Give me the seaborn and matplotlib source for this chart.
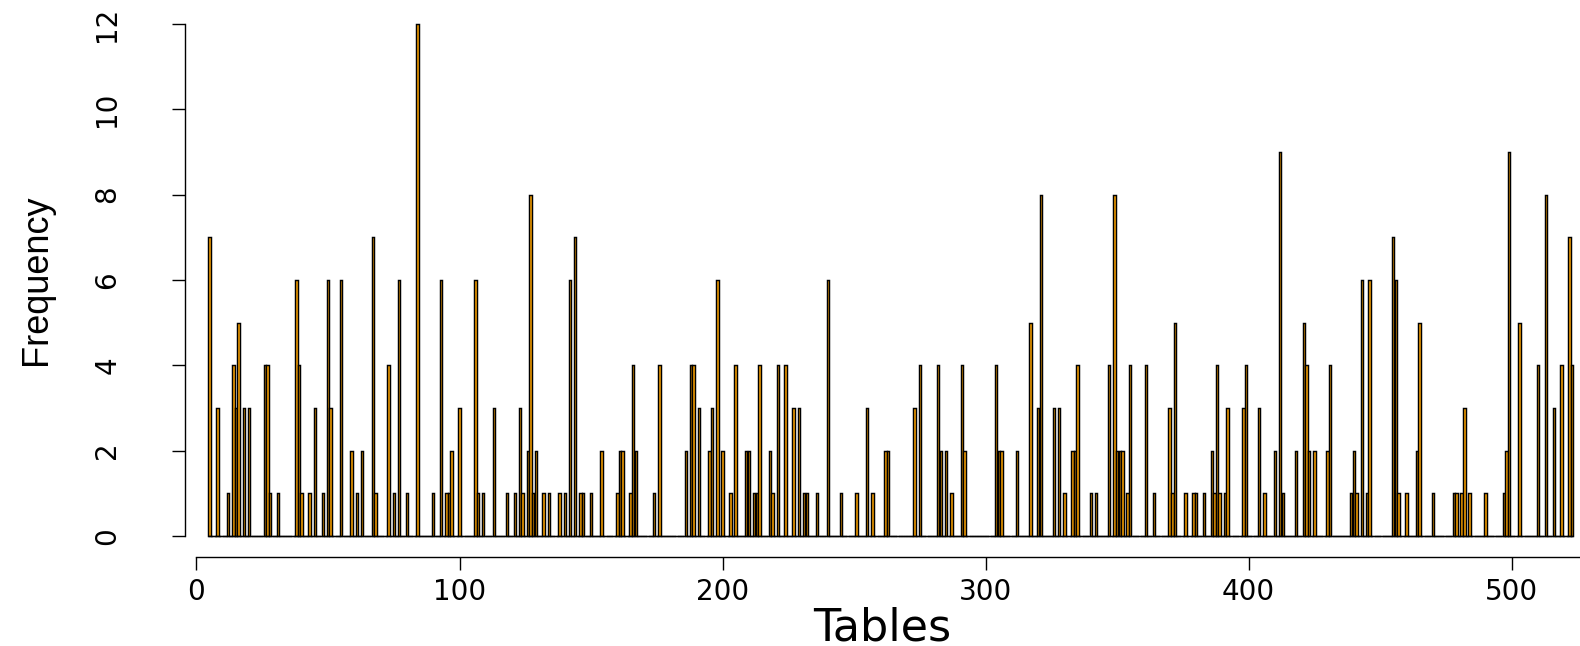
"""plot.py - frequency of table ids, drawn as thin R-style bars"""

import matplotlib

matplotlib.use("Agg")

import matplotlib.pyplot as plt
import pandas as pd
import seaborn as sns

# table ids that occur, and how often each one occurs
TABLE_IDS = [
    5, 8, 12, 14, 15, 16, 18, 20, 26, 27, 28, 31, 38, 39, 40,
    43, 45, 48, 50, 51, 55, 59, 61, 63, 67, 68, 73, 75, 77, 80, 84,
    90, 93, 95, 96, 97, 100, 106, 107, 109, 113, 118, 121, 123, 124, 126, 127, 128, 129,
    132, 134, 138, 140, 142, 144, 146, 147, 150, 154, 160, 161, 162, 165, 166, 167, 174,
    176, 186, 188, 189, 191, 195, 196, 198, 200, 203, 205, 209, 210, 212, 213, 214, 218,
    219, 221, 224, 227, 229, 231, 232, 236, 240, 245, 251, 255, 257,
    262, 263, 273, 275, 282, 283, 285, 287, 291, 292, 304, 305,
    306, 312, 317, 320, 321, 326, 328, 330, 333, 334, 335, 340, 342, 347, 349,
    350, 351, 352, 354, 355, 361, 364, 370, 371, 372, 376, 379, 380, 383, 386, 387, 388, 389, 391, 392,
    398, 399, 404, 406, 410, 412, 413, 418, 421, 422, 423, 425, 430, 431,
    439, 440, 441, 443, 445, 446, 455, 456, 457, 460, 464, 465, 470, 478, 479,
    481, 482, 484, 490, 497, 498, 499, 503, 510, 513, 516, 519, 522, 523,
]
COUNTS = [
    7, 3, 1, 4, 3, 5, 3, 3, 4, 4, 1, 1, 6, 4, 1,
    1, 3, 1, 6, 3, 6, 2, 1, 2, 7, 1, 4, 1, 6, 1, 12,
    1, 6, 1, 1, 2, 3, 6, 1, 1, 3, 1, 1, 3, 1, 2, 8, 1, 2,
    1, 1, 1, 1, 6, 7, 1, 1, 1, 2, 1, 2, 2, 1, 4, 2, 1,
    4, 2, 4, 4, 3, 2, 3, 6, 2, 1, 4, 2, 2, 1, 1, 4, 2,
    1, 4, 4, 3, 3, 1, 1, 1, 6, 1, 1, 3, 1,
    2, 2, 3, 4, 4, 2, 2, 1, 4, 2, 4, 2,
    2, 2, 5, 3, 8, 3, 3, 1, 2, 2, 4, 1, 1, 4, 8,
    2, 2, 2, 1, 4, 4, 1, 3, 1, 5, 1, 1, 1, 1, 2, 1, 4, 1, 1, 3,
    3, 4, 3, 1, 2, 9, 1, 2, 5, 4, 2, 2, 2, 4,
    1, 2, 1, 6, 1, 6, 7, 6, 1, 1, 2, 5, 1, 1, 1,
    1, 3, 1, 1, 1, 2, 9, 5, 4, 8, 3, 4, 7, 4,
]
X_TICKS = [0, 100, 200, 300, 400, 500]
Y_TICKS = [0, 2, 4, 6, 8, 10, 12]


def build_table() -> pd.DataFrame:
    """Full run of table ids from first to last, zero where a table never occurs."""
    freq = dict(zip(TABLE_IDS, COUNTS))
    ids = list(range(TABLE_IDS[0], TABLE_IDS[-1] + 1))
    return pd.DataFrame({"table": ids, "freq": [freq.get(i, 0) for i in ids]})


def plot_frequency(table: pd.DataFrame) -> None:
    fig = plt.figure(figsize=(15.8, 6.46), dpi=100)
    W, H = 1580, 646
    # plot region in pixels (R style, no box)
    left, right, top, bottom = 184.5, 1579.5, 3.5, 556.5
    ax = fig.add_axes([left / W, 1 - bottom / H, (right - left) / W, (bottom - top) / H])

    bar_width = 0.92
    sns.barplot(
        data=table, x="table", y="freq", native_scale=True,
        color="#FFA500", saturation=1, edgecolor="black", linewidth=1.05,
        width=bar_width, errorbar=None, ax=ax,
    )
    # the empty bars collapse to one continuous line at zero, as R draws them
    ax.hlines(0, table["table"].min() - bar_width / 2, table["table"].max() + bar_width / 2,
              color="black", linewidth=1.0, zorder=3)

    ax.set_xlim(-4.56, 525.8)
    ax.set_ylim(-0.48, 12.48)

    # axes drawn like R: separate lines only over the tick range
    for side in ("top", "right"):
        ax.spines[side].set_visible(False)
    ax.spines["left"].set_bounds(0, 12)
    ax.spines["bottom"].set_bounds(0, 525.8)
    for side in ("left", "bottom"):
        ax.spines[side].set_linewidth(1.0)

    ax.set_xticks(X_TICKS)
    ax.set_xticklabels([str(t) for t in X_TICKS], fontsize=20, family="DejaVu Sans")
    ax.set_yticks(Y_TICKS)
    ax.set_yticklabels([str(t) for t in Y_TICKS], fontsize=20, rotation=90,
                       va="center", family="DejaVu Sans")
    ax.tick_params(axis="x", length=9.5, width=1.0, pad=6)
    ax.tick_params(axis="y", length=9.5, width=1.0, pad=36)

    ax.set_xlabel("Tables", fontsize=32, family="DejaVu Sans", labelpad=0)
    ax.set_ylabel("Frequency", fontsize=26, family="Liberation Sans", labelpad=28)

    fig.savefig("out.png", dpi=100)


def main():
    """main function"""
    plot_frequency(build_table())


if __name__ == "__main__":
    main()
